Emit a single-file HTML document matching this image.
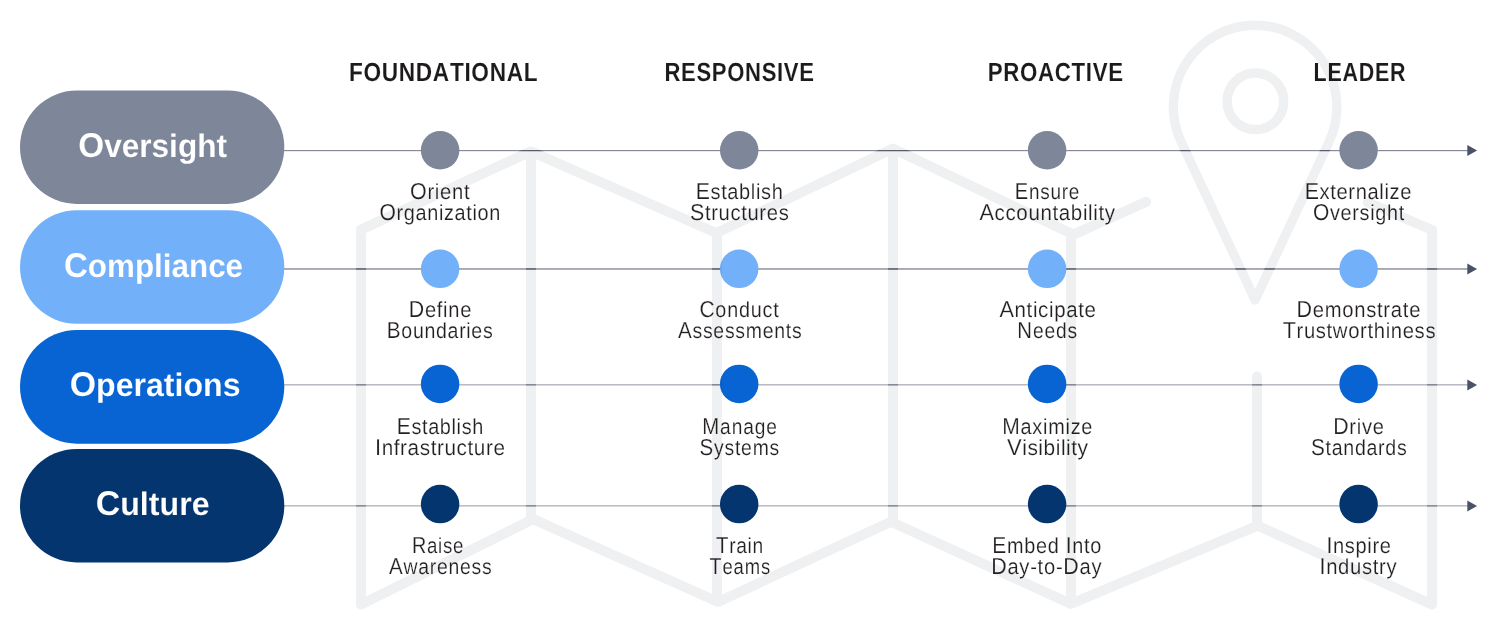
<!DOCTYPE html>
<html lang="en"><head><meta charset="utf-8"><title>Maturity roadmap</title>
<style>
html,body{margin:0;padding:0;background:#fff;}
body{width:1500px;height:624px;overflow:hidden;}
svg{display:block;will-change:transform;}
text{font-family:"Liberation Sans",sans-serif;font-kerning:none;white-space:pre;text-rendering:geometricPrecision;}
.hdr{font-weight:700;font-size:26.2px;fill:#1c1a1b;stroke:#fff;stroke-width:0.1px;}
.pill{font-weight:700;font-size:32.5px;fill:#fff;stroke-width:0.1px;}
.lbl{font-weight:400;font-size:21.8px;fill:#231f20;stroke:#fff;stroke-width:0.18px;}
</style></head><body>
<svg width="1500" height="624" viewBox="0 0 1500 624" role="img" aria-label="Maturity roadmap">
<defs>
<g id="wm" fill="none" stroke-linejoin="round" stroke-linecap="round">
<path d="M361.1,604.6 L361.1,229.6 L530.8,151.4 L716.4,233.0 L893.0,148.5 L1073.3,234.6 L1146.0,201.9 M361.1,604.6 L533.2,519.1 L718.0,602.0 L891.0,521.8 L1070.8,603.9 L1257.8,525.7 L1432.1,604.6 L1432.1,230.0 L1367.7,202.3 M531.0,152.0 L531.0,519.0 M717.0,233.5 L717.0,601.0 M893.0,149.0 L893.0,522.0 M1071.0,234.0 L1071.0,603.0 M1257.0,376.6 L1257.0,525.0" stroke-width="10"/>
<path d="M1255.1,300.0 L1181.05,141.63 A81.75,81.75 0 1 1 1329.15,141.63 Z" stroke-width="9.3"/>
<circle cx="1255.4" cy="101.3" r="28.3" stroke-width="9.5"/>
</g>
<mask id="wmm" maskUnits="userSpaceOnUse" x="0" y="0" width="1500" height="624"><use href="#wm" stroke="#fff"/></mask>
</defs>
<rect width="1500" height="624" fill="#fff"/>
<defs><g id="rows">
<rect x="280" y="150" width="1188" height="1" fill="#4c5163" fill-opacity="0.67"/>
<rect x="280" y="151" width="1188" height="1" fill="#4c5163" fill-opacity="0.12"/>
<rect x="280" y="268" width="1188" height="1" fill="#4c5163" fill-opacity="0.5"/>
<rect x="280" y="269" width="1188" height="1" fill="#4c5163" fill-opacity="0.45"/>
<rect x="280" y="384" width="1188" height="1" fill="#4c5163" fill-opacity="0.39"/>
<rect x="280" y="385" width="1188" height="1" fill="#4c5163" fill-opacity="0.22"/>
<rect x="280" y="505" width="1188" height="1" fill="#4c5163" fill-opacity="0.36"/>
<rect x="280" y="506" width="1188" height="1" fill="#4c5163" fill-opacity="0.23"/>
</g></defs>
<use href="#rows"/>
<use href="#rows" mask="url(#wmm)"/>
<g fill="#4a5268">
<path d="M1467.3,145.00 L1477.1,150.50 L1467.3,156.00 Z"/>
<path d="M1467.3,263.40 L1477.1,268.90 L1467.3,274.40 Z"/>
<path d="M1467.3,379.45 L1477.1,384.95 L1467.3,390.45 Z"/>
<path d="M1467.3,500.45 L1477.1,505.95 L1467.3,511.45 Z"/>
</g>
<rect x="20" y="90.6" width="264.3" height="113.3" rx="56.65" fill="#7e869a"/>
<rect x="20" y="210.3" width="264.3" height="113.4" rx="56.70" fill="#73b0fa"/>
<rect x="20" y="329.9" width="264.3" height="113.8" rx="56.90" fill="#0864d2"/>
<rect x="20" y="449.0" width="264.3" height="113.4" rx="56.70" fill="#04356f"/>
<circle cx="440.1" cy="150.3" r="19.25" fill="#7e869a"/>
<circle cx="739.2" cy="150.3" r="19.25" fill="#7e869a"/>
<circle cx="1047.1" cy="150.3" r="19.25" fill="#7e869a"/>
<circle cx="1358.6" cy="150.3" r="19.25" fill="#7e869a"/>
<circle cx="440.1" cy="268.85" r="19.25" fill="#73b0fa"/>
<circle cx="739.2" cy="268.85" r="19.25" fill="#73b0fa"/>
<circle cx="1047.1" cy="268.85" r="19.25" fill="#73b0fa"/>
<circle cx="1358.6" cy="268.85" r="19.25" fill="#73b0fa"/>
<circle cx="440.1" cy="383.9" r="19.25" fill="#0864d2"/>
<circle cx="739.2" cy="383.9" r="19.25" fill="#0864d2"/>
<circle cx="1047.1" cy="383.9" r="19.25" fill="#0864d2"/>
<circle cx="1358.6" cy="383.9" r="19.25" fill="#0864d2"/>
<circle cx="440.1" cy="504.1" r="19.25" fill="#04356f"/>
<circle cx="739.2" cy="504.1" r="19.25" fill="#04356f"/>
<circle cx="1047.1" cy="504.1" r="19.25" fill="#04356f"/>
<circle cx="1358.6" cy="504.1" r="19.25" fill="#04356f"/>
<text class="pill" stroke="#7e869a" transform="translate(78.23,157) scale(0.9715,1)"><tspan font-size="34.3px">O</tspan>versight</text>
<text class="pill" stroke="#73b0fa" transform="translate(63.94,277) scale(0.9656,1)"><tspan font-size="34.3px">C</tspan>ompliance</text>
<text class="pill" stroke="#0864d2" transform="translate(69.71,396) scale(0.9875,1)"><tspan font-size="34.3px">O</tspan>perations</text>
<text class="pill" stroke="#04356f" transform="translate(95.71,515) scale(0.9891,1)"><tspan font-size="34.3px">C</tspan>ulture</text>
<text class="hdr" transform="translate(348.88,81) scale(0.8653,1)" style="letter-spacing:0.784px">FOUNDATIONAL</text>
<text class="hdr" transform="translate(664.52,81) scale(0.8427,1)" style="letter-spacing:0.776px">RESPONSIVE</text>
<text class="hdr" transform="translate(987.71,81) scale(0.8508,1)" style="letter-spacing:0.782px">PROACTIVE</text>
<text class="hdr" transform="translate(1313.56,81) scale(0.8204,1)" style="letter-spacing:0.879px">LEADER</text>
<text class="lbl" transform="translate(409.98,199) scale(0.9301,1)" style="letter-spacing:0.755px"><tspan font-size="23.1px">O</tspan>rient</text>
<text class="lbl" transform="translate(379.50,220) scale(0.9122,1)" style="letter-spacing:0.709px"><tspan font-size="23.1px">O</tspan>rganization</text>
<text class="lbl" transform="translate(695.76,199) scale(0.9180,1)" style="letter-spacing:0.686px"><tspan font-size="23.1px">E</tspan>stablish</text>
<text class="lbl" transform="translate(690.03,220) scale(0.9269,1)" style="letter-spacing:0.698px"><tspan font-size="23.1px">S</tspan>tructures</text>
<text class="lbl" transform="translate(1014.85,199) scale(0.8689,1)" style="letter-spacing:0.856px"><tspan font-size="23.1px">E</tspan>nsure</text>
<text class="lbl" transform="translate(979.46,220) scale(0.9415,1)" style="letter-spacing:0.664px"><tspan font-size="23.1px">A</tspan>ccountability</text>
<text class="lbl" transform="translate(1304.75,199) scale(0.9236,1)" style="letter-spacing:0.676px"><tspan font-size="23.1px">E</tspan>xternalize</text>
<text class="lbl" transform="translate(1313.01,220) scale(0.9092,1)" style="letter-spacing:0.742px"><tspan font-size="23.1px">O</tspan>versight</text>
<text class="lbl" transform="translate(408.75,317) scale(0.9232,1)" style="letter-spacing:0.780px"><tspan font-size="23.1px">D</tspan>efine</text>
<text class="lbl" transform="translate(386.80,338) scale(0.8969,1)" style="letter-spacing:0.769px"><tspan font-size="23.1px">B</tspan>oundaries</text>
<text class="lbl" transform="translate(699.44,317) scale(0.9074,1)" style="letter-spacing:0.860px"><tspan font-size="23.1px">C</tspan>onduct</text>
<text class="lbl" transform="translate(677.96,338) scale(0.8917,1)" style="letter-spacing:0.828px"><tspan font-size="23.1px">A</tspan>ssessments</text>
<text class="lbl" transform="translate(999.46,317) scale(0.9391,1)" style="letter-spacing:0.678px"><tspan font-size="23.1px">A</tspan>nticipate</text>
<text class="lbl" transform="translate(1017.33,338) scale(0.8821,1)" style="letter-spacing:0.978px"><tspan font-size="23.1px">N</tspan>eeds</text>
<text class="lbl" transform="translate(1296.44,317) scale(0.9280,1)" style="letter-spacing:0.784px"><tspan font-size="23.1px">D</tspan>emonstrate</text>
<text class="lbl" transform="translate(1282.72,338) scale(0.9293,1)" style="letter-spacing:0.699px"><tspan font-size="23.1px">T</tspan>rustworthiness</text>
<text class="lbl" transform="translate(396.77,434) scale(0.9125,1)" style="letter-spacing:0.686px"><tspan font-size="23.1px">E</tspan>stablish</text>
<text class="lbl" transform="translate(374.98,455) scale(0.9498,1)" style="letter-spacing:0.617px"><tspan font-size="23.1px">I</tspan>nfrastructure</text>
<text class="lbl" transform="translate(702.33,434) scale(0.8790,1)" style="letter-spacing:0.983px"><tspan font-size="23.1px">M</tspan>anage</text>
<text class="lbl" transform="translate(699.57,455) scale(0.8875,1)" style="letter-spacing:0.879px"><tspan font-size="23.1px">S</tspan>ystems</text>
<text class="lbl" transform="translate(1002.27,434) scale(0.9111,1)" style="letter-spacing:0.823px"><tspan font-size="23.1px">M</tspan>aximize</text>
<text class="lbl" transform="translate(1006.90,455) scale(0.9582,1)" style="letter-spacing:0.564px"><tspan font-size="23.1px">V</tspan>isibility</text>
<text class="lbl" transform="translate(1333.25,434) scale(0.9218,1)" style="letter-spacing:0.781px"><tspan font-size="23.1px">D</tspan>rive</text>
<text class="lbl" transform="translate(1311.06,455) scale(0.8979,1)" style="letter-spacing:0.785px"><tspan font-size="23.1px">S</tspan>tandards</text>
<text class="lbl" transform="translate(411.88,553) scale(0.8560,1)" style="letter-spacing:0.859px"><tspan font-size="23.1px">R</tspan>aise</text>
<text class="lbl" transform="translate(388.96,574) scale(0.8888,1)" style="letter-spacing:0.861px"><tspan font-size="23.1px">A</tspan>wareness</text>
<text class="lbl" transform="translate(716.04,553) scale(0.8814,1)" style="letter-spacing:0.774px"><tspan font-size="23.1px">T</tspan>rain</text>
<text class="lbl" transform="translate(709.56,574) scale(0.8460,1)" style="letter-spacing:1.055px"><tspan font-size="23.1px">T</tspan>eams</text>
<text class="lbl" transform="translate(992.27,553) scale(0.9108,1)" style="letter-spacing:0.779px"><tspan font-size="23.1px">E</tspan>mbed <tspan font-size="23.1px">I</tspan>nto</text>
<text class="lbl" transform="translate(991.25,574) scale(0.9257,1)" style="letter-spacing:0.781px"><tspan font-size="23.1px">D</tspan>ay-to-<tspan font-size="23.1px">D</tspan>ay</text>
<text class="lbl" transform="translate(1326.53,553) scale(0.9221,1)" style="letter-spacing:0.667px"><tspan font-size="23.1px">I</tspan>nspire</text>
<text class="lbl" transform="translate(1319.52,574) scale(0.9309,1)" style="letter-spacing:0.691px"><tspan font-size="23.1px">I</tspan>ndustry</text>
<use href="#wm" stroke="#eef0f2" style="mix-blend-mode:multiply"/>
</svg>
</body></html>
